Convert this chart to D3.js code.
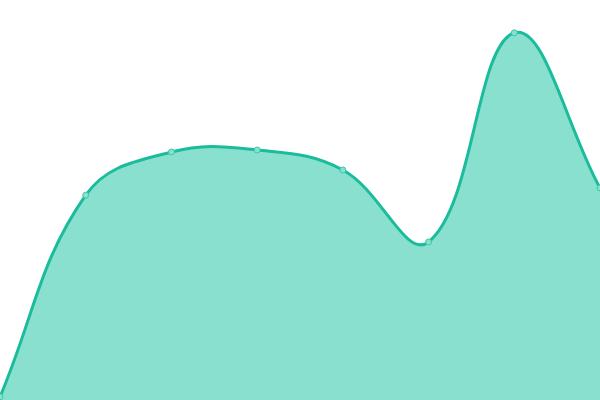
<!DOCTYPE html>
<html>
<head>
<meta charset="utf-8">
<script src="https://cdn.jsdelivr.net/npm/d3@7"></script>
<style>
body{margin:0;background:#fff}
svg{display:block}
</style>
</head>
<body>
<svg id="canvas" width="600" height="400"></svg>
<script>
let labels=["A","B","C","D","E","F","G","H"]
let values=[0.8,51.2,62,62.5,57.5,39.5,91.8,53]

let canvas=d3.select("#canvas")
const w=600,h=400
const tension=0.4

let x=d3.scalePoint().domain(labels).range([0,w])
let y=d3.scaleLinear().domain([0,100]).range([h,0])

let pts=labels.map((l,i)=>[x(l),y(values[i])])

// spline with distance-weighted control points (tension 0.4)
let splinePath=(p,close)=>{
    let cps=p.map((cur,i)=>{
        let prev=p[i-1]||cur,next=p[i+1]||cur
        let d01=Math.hypot(cur[0]-prev[0],cur[1]-prev[1])
        let d12=Math.hypot(next[0]-cur[0],next[1]-cur[1])
        let s=d01+d12||1
        let fa=tension*d01/s,fb=tension*d12/s
        let dx=next[0]-prev[0],dy=next[1]-prev[1]
        return {prev:[cur[0]-fa*dx,cur[1]-fa*dy],next:[cur[0]+fb*dx,cur[1]+fb*dy]}
    })
    let path=d3.path()
    path.moveTo(p[0][0],p[0][1])
    for(let i=1;i<p.length;i++){
        let a=cps[i-1].next,b=cps[i].prev
        path.bezierCurveTo(a[0],a[1],b[0],b[1],p[i][0],p[i][1])
    }
    if(close){
        path.lineTo(p[p.length-1][0],y(0))
        path.lineTo(p[0][0],y(0))
        path.closePath()
    }
    return path.toString()
}

canvas.append("path")
    .attr("d",splinePath(pts,true))
    .attr("fill","#89e0cf")
canvas.append("path")
    .attr("d",splinePath(pts,false))
    .attr("fill","none")
    .attr("stroke","#1abc9c")
    .attr("stroke-width",3)
canvas.selectAll("circle")
    .data(pts)
    .enter()
    .append("circle")
    .attr("cx",d=>d[0])
    .attr("cy",d=>d[1])
    .attr("r",3)
    .attr("fill","#89e0cf")
    .attr("stroke","#3cc7a9")
    .attr("stroke-width",1)
</script>
</body>
</html>
